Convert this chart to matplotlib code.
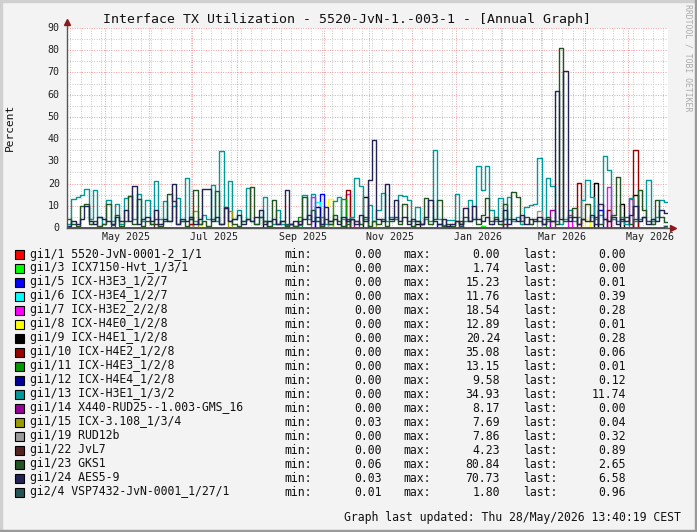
import numpy as np
import pandas as pd
import matplotlib
matplotlib.use('Agg')
import matplotlib.pyplot as plt
import matplotlib.dates as mdates
from matplotlib.patches import Rectangle

# time span of the annual graph (3-day consolidated steps)
t_start = pd.Timestamp('2025-04-04 13:40')
t_end = pd.Timestamp('2026-05-28 13:40')
n_steps = 138

# main series, one value per step
gi1_13 = [2, 13, 14, 15, 17.5, 4, 17.2, 5, 2, 12.7, 3, 11, 2, 13.5, 14.5, 4, 15.4, 3, 12.7, 2,
          21, 4, 12, 3, 10, 13.5, 3, 22.5, 5, 3, 2, 6, 4, 19.5, 3, 34.8, 9, 21, 4, 8,
          3, 18, 3, 2, 5, 14, 3, 2, 8, 2, 1.5, 2, 1, 1.5, 15, 4, 15.4, 3, 5, 2,
          3, 12, 14, 4, 3, 5, 22.5, 18.7, 4, 10.5, 3, 8, 15.7, 3, 5, 4, 15, 14.2, 12.7, 3,
          9.4, 2, 4, 3, 34.93, 4, 1.5, 3.7, 3.7, 15.4, 2, 3, 12.7, 4, 27.7, 17, 28, 8, 3, 13.5,
          4, 14, 3, 5, 2, 9.4, 10.5, 11, 31.5, 4, 22.5, 18.7, 3, 2, 4, 8, 3, 5, 12.7, 21.7,
          14, 4, 6, 32.5, 26.2, 4, 3, 5, 2, 13.5, 3, 4, 5, 21.7, 3, 5, 12.7, 11.74]

gi1_24 = [1, 3, 2, 4, 10, 3, 2, 5, 4, 3, 2, 5, 3, 8, 3, 19, 2, 4, 5, 3,
          8, 2, 4, 3, 20, 2, 4, 3, 5, 2, 4, 17.7, 17.5, 3, 5, 2, 9, 3, 4, 6,
          2, 4, 3, 5, 8, 2, 3, 4, 2, 3, 17.2, 2, 3, 2, 4, 6, 3, 5, 2, 9.4,
          3, 4, 2, 5, 3, 4, 2, 6, 3, 21.7, 39.4, 4, 3, 20, 4, 12.4, 3, 5, 2, 4,
          3, 2, 5, 12.7, 3, 2, 4, 1, 2, 3, 2, 9, 3, 10, 4, 3, 5, 2, 4, 3,
          8, 2, 4, 3, 6, 2, 4, 3, 5, 2, 4, 3, 61.8, 4, 70.73, 3, 5, 2, 4, 3,
          6, 2, 11, 4, 3, 5, 2, 4, 3, 6, 10, 3, 5, 2, 4, 3, 8, 6.58]

gi1_23 = [4, 2, 1, 10, 11, 2, 3, 1, 2, 11, 2, 6, 1, 3, 14.5, 2, 13, 1, 3, 2,
          4, 1, 3, 15.4, 12, 2, 3, 1, 4, 17.2, 2, 3, 1, 4, 16.5, 2, 9.5, 3, 2, 1,
          3, 4, 18.4, 2, 5, 3, 1, 12.7, 2, 3, 1, 2, 1, 3, 14, 2, 8, 3, 1, 4,
          2, 6, 3, 1, 2, 4, 3, 2, 5, 1, 3, 2, 4, 1, 3, 5, 2, 11, 3, 1,
          3, 2, 13.5, 2, 4, 12.7, 1, 2, 1, 3, 2, 5, 3, 4, 2, 6, 13.5, 3, 5, 2,
          11, 4, 16, 14, 3, 5, 2, 4, 3, 2, 5, 3, 2, 80.84, 3, 5, 9, 2, 4, 11,
          3, 5, 2, 4, 3, 6, 23, 3, 5, 2, 4, 17, 8, 3, 2, 12.7, 5, 2.65]

# minor series: only the visible spikes {step: value}
gi1_1_pk = {}
gi1_3_pk = {60: 1.74, 95: 0.8}
gi1_5_pk = {58: 15.23, 85: 2, 122: 8, 137: 0.01}
gi1_6_pk = {57: 11.76, 120: 5, 137: 0.39}
gi1_7_pk = {56: 14, 64: 15.4, 115: 6, 124: 18.54, 129: 13, 137: 0.28}
gi1_8_pk = {30: 3, 60: 12.89, 119: 4, 137: 0.01}
gi1_9_pk = {45: 3, 68: 14, 80: 2, 121: 20.24, 127: 11, 130: 15, 137: 0.28}
gi1_10_pk = {28: 2, 64: 17, 90: 3, 117: 20.2, 124: 8, 130: 35.08, 137: 0.06}
gi1_11_pk = {53: 5, 63: 13.15, 110: 3, 137: 0.01}
gi1_12_pk = {57: 9.58, 100: 4, 137: 0.12}
gi1_14_pk = {66: 3, 111: 8.17}
gi1_15_pk = {29: 7.5, 37: 7.69, 70: 3, 137: 0.04}
gi1_19_pk = {60: 2, 108: 7.86, 137: 0.32}
gi1_22_pk = {20: 2, 64: 4.23, 100: 2, 137: 0.89}
gi2_4_pk = {10: 1.2, 50: 1.8, 90: 1.0, 137: 0.96}

names = ['gi1/1 5520-JvN-0001-2_1/1', 'gi1/3 ICX7150-Hvt_1/3/1', 'gi1/5 ICX-H3E3_1/2/7',
         'gi1/6 ICX-H3E4_1/2/7', 'gi1/7 ICX-H3E2_2/2/8', 'gi1/8 ICX-H4E0_1/2/8',
         'gi1/9 ICX-H4E1_1/2/8', 'gi1/10 ICX-H4E2_1/2/8', 'gi1/11 ICX-H4E3_1/2/8',
         'gi1/12 ICX-H4E4_1/2/8', 'gi1/13 ICX-H3E1_1/3/2', 'gi1/14 X440-RUD25--1.003-GMS_16',
         'gi1/15 ICX-3.108_1/3/4', 'gi1/19 RUD12b', 'gi1/22 JvL7', 'gi1/23 GKS1',
         'gi1/24 AES5-9', 'gi2/4 VSP7432-JvN-0001_1/27/1']
colors = ['#FF0000', '#00FF00', '#0000FF', '#00FFFF', '#FF00FF', '#FFFF00', '#000000',
          '#990000', '#009900', '#000099', '#009999', '#990099', '#999900', '#999999',
          '#552222', '#225522', '#222255', '#225555']
mins = [0.00, 0.00, 0.00, 0.00, 0.00, 0.00, 0.00, 0.00, 0.00, 0.00, 0.00, 0.00, 0.03, 0.00,
        0.00, 0.06, 0.03, 0.01]
maxs = [0.00, 1.74, 15.23, 11.76, 18.54, 12.89, 20.24, 35.08, 13.15, 9.58, 34.93, 8.17,
        7.69, 7.86, 4.23, 80.84, 70.73, 1.80]
lasts = [0.00, 0.00, 0.01, 0.39, 0.28, 0.01, 0.28, 0.06, 0.01, 0.12, 11.74, 0.00, 0.04,
         0.32, 0.89, 2.65, 6.58, 0.96]


def from_peaks(pk):
    v = np.zeros(n_steps)
    for k, val in pk.items():
        v[k] = val
    return v


series = [from_peaks(gi1_1_pk), from_peaks(gi1_3_pk), from_peaks(gi1_5_pk), from_peaks(gi1_6_pk),
          from_peaks(gi1_7_pk), from_peaks(gi1_8_pk), from_peaks(gi1_9_pk), from_peaks(gi1_10_pk),
          from_peaks(gi1_11_pk), from_peaks(gi1_12_pk), np.array(gi1_13), from_peaks(gi1_14_pk),
          from_peaks(gi1_15_pk), from_peaks(gi1_19_pk), from_peaks(gi1_22_pk), np.array(gi1_23),
          np.array(gi1_24), from_peaks(gi2_4_pk)]

W, H = 697, 532
BG = '#F3F3F3'
mono = 'DejaVu Sans Mono'

fig = plt.figure(figsize=(W / 100, H / 100), dpi=100, facecolor=BG)
ax = fig.add_axes([67 / W, 1 - 228 / H, 601 / W, 200 / H])
ax.set_facecolor('white')

t = pd.date_range(t_start, t_end, periods=n_steps + 1)
for vals, col in zip(series, colors):
    ax.step(t, np.append(vals, vals[-1]), where='post', color=col, lw=1.0)

ax.set_xlim(t_start, t_end)
ax.set_ylim(0, 90)

# grid
ax.set_yticks(np.arange(0, 91, 10))
ax.set_yticks(np.arange(5, 90, 10), minor=True)
ax.xaxis.set_major_locator(mdates.MonthLocator())
ax.xaxis.set_minor_locator(mdates.WeekdayLocator(byweekday=mdates.MO))
ax.grid(which='minor', color='#C8C8C8', linestyle=(0, (1, 1.5)), lw=0.7)
ax.grid(which='major', color='#F29A9A', linestyle=(0, (1, 1.5)), lw=0.7)
ax.set_axisbelow(True)
ax.tick_params(which='both', length=0)
ax.set_xticklabels([])
ax.set_yticklabels([])
for s in ax.spines.values():
    s.set_visible(False)

# y tick labels
for v in range(0, 91, 10):
    ax.text(-0.012, v, str(v), transform=ax.get_yaxis_transform(), ha='right', va='center',
            fontsize=7.2, family=mono, color='#222222')

# x labels, centred in the month
for lab in ['2025-05', '2025-07', '2025-09', '2025-11', '2026-01', '2026-03', '2026-05']:
    mid = pd.Timestamp(lab + '-01') + pd.Timedelta(days=15)
    ax.text(mid, -0.045, mid.strftime('%b %Y'), transform=ax.get_xaxis_transform(),
            ha='center', va='center', fontsize=7.2, family=mono, color='#222222')

# axes with arrows
ax.plot([0, 0], [0, 1.03], transform=ax.transAxes, color='#555555', lw=1, clip_on=False)
ax.plot([0, 1.006], [0, 0], transform=ax.transAxes, color='#555555', lw=1, clip_on=False)
ax.plot([0], [1.03], marker='^', ms=4, color='#8B1A1A', transform=ax.transAxes, clip_on=False)
ax.plot([1.008], [0], marker='>', ms=4, color='#8B1A1A', transform=ax.transAxes, clip_on=False)

# titles
fig.text(347 / W, 1 - 19 / H, 'Interface TX Utilization - 5520-JvN-1.-003-1 - [Annual Graph]',
         ha='center', va='center', fontsize=9.5, family=mono, color='#111111')
fig.text(10 / W, 1 - 127 / H, 'Percent', rotation=90, ha='center', va='center',
         fontsize=8, family=mono, color='#111111')
fig.text(688 / W, 1 - 58 / H, 'RRDTOOL / TOBI OETIKER', rotation=270, ha='center', va='center',
         fontsize=5.9, family=mono, color='#AAAAAA')

# legend
for i, (nm, col) in enumerate(zip(names, colors)):
    y = 1 - (254 + 14 * i) / H
    fig.patches.append(Rectangle((15 / W, y - 4.5 / H), 9 / W, 9 / H, transform=fig.transFigure,
                                 facecolor=col, edgecolor='black', lw=0.8))
    kw = dict(va='center', fontsize=8.3, family=mono, color='#111111')
    fig.text(30 / W, y, nm, ha='left', **kw)
    fig.text(284 / W, y, 'min:', ha='left', **kw)
    fig.text(382 / W, y, f'{mins[i]:.2f}', ha='right', **kw)
    fig.text(403 / W, y, 'max:', ha='left', **kw)
    fig.text(500 / W, y, f'{maxs[i]:.2f}', ha='right', **kw)
    fig.text(523 / W, y, 'last:', ha='left', **kw)
    fig.text(626 / W, y, f'{lasts[i]:.2f}', ha='right', **kw)

fig.text(681 / W, 1 - 517 / H, 'Graph last updated: Thu 28/May/2026 13:40:19 CEST',
         ha='right', va='center', fontsize=8.3, family=mono, color='#111111')

# frame shading
fig.patches.append(Rectangle((0, 1 - 2 / H), 1, 2 / H, transform=fig.transFigure, color='#D0D0D0'))
fig.patches.append(Rectangle((0, 0), 2 / W, 1, transform=fig.transFigure, color='#D0D0D0'))
fig.patches.append(Rectangle((1 - 2 / W, 0), 2 / W, 1, transform=fig.transFigure, color='#9A9A9A'))
fig.patches.append(Rectangle((0, 0), 1, 2 / H, transform=fig.transFigure, color='#9A9A9A'))

fig.savefig('out.png', dpi=100, facecolor=BG)
